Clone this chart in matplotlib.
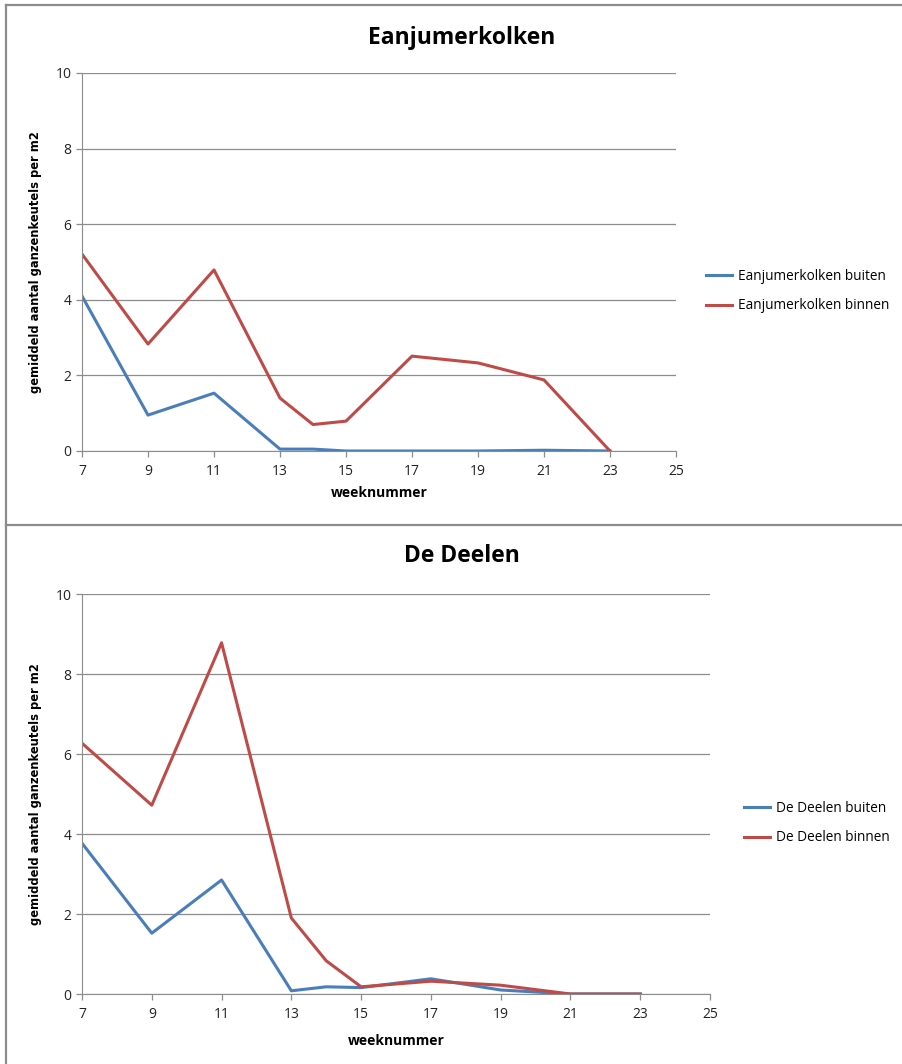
import matplotlib
matplotlib.use('Agg')
import matplotlib.pyplot as plt
from matplotlib.lines import Line2D

plt.rcParams['font.family'] = ['Open Sans', 'DejaVu Sans']

weeks = [7, 9, 11, 13, 14, 15, 17, 19, 21, 23]

# Eanjumerkolken
eanj_buiten = [4.10, 0.95, 1.53, 0.05, 0.05, 0.00, 0.00, 0.00, 0.02, 0.00]
eanj_binnen = [5.21, 2.83, 4.79, 1.40, 0.70, 0.79, 2.51, 2.33, 1.88, 0.00]

# De Deelen
deel_buiten = [3.77, 1.52, 2.85, 0.08, 0.18, 0.16, 0.38, 0.10, 0.00, 0.00]
deel_binnen = [6.27, 4.72, 8.78, 1.90, 0.83, 0.18, 0.32, 0.22, 0.00, 0.00]

xticks = [7, 9, 11, 13, 15, 17, 19, 21, 23, 25]
yticks = [0, 2, 4, 6, 8, 10]

blue = '#4a7ebb'
red = '#be4b48'
grid = '#8c8c8c'

W, H = 902, 1064
fig = plt.figure(figsize=(W / 100, H / 100), dpi=100)

# panel frames
fc = '#8c8c8c'
fig.add_artist(Line2D([6 / W, 1], [1 - 5 / H, 1 - 5 / H], color=fc, lw=1.6, transform=fig.transFigure))
fig.add_artist(Line2D([6 / W, 6 / W], [0, 1 - 5 / H], color=fc, lw=1.6, transform=fig.transFigure))
fig.add_artist(Line2D([6 / W, 1], [1 - 525 / H, 1 - 525 / H], color=fc, lw=1.6, transform=fig.transFigure))


def panel(rect, title, title_y, buiten, binnen, names, leg_x, leg_y, xlab_y, ylab_x):
    ax = fig.add_axes(rect)
    ax.plot(weeks, buiten, color=blue, lw=2.2, label=names[0])
    ax.plot(weeks, binnen, color=red, lw=2.2, label=names[1])
    ax.set_xlim(7, 25)
    ax.set_ylim(0, 10)
    ax.set_xticks(xticks)
    ax.set_yticks(yticks)
    ax.yaxis.grid(True, color=grid, lw=0.9)
    ax.set_axisbelow(True)
    for s in ['top', 'right']:
        ax.spines[s].set_visible(False)
    ax.spines['left'].set_color(grid)
    ax.spines['bottom'].set_color(grid)
    ax.tick_params(axis='both', length=4.5, width=0.9, color=grid, labelsize=10, labelcolor='#222222', pad=3)
    ax.tick_params(axis='x', pad=5)
    ax.set_xlabel('weeknummer', fontsize=10, fontweight='bold')
    ax.xaxis.set_label_coords(0.5, xlab_y)
    ax.set_ylabel('gemiddeld aantal ganzenkeutels per m2', fontsize=8.3, fontweight='bold', family='DejaVu Sans')
    ax.yaxis.set_label_coords(ylab_x, 0.5)
    fig.text(0.512, title_y, title, ha='center', va='center', fontsize=16.5, fontweight='bold')
    ax.legend(loc='center left', bbox_to_anchor=(leg_x / W, leg_y), bbox_transform=fig.transFigure,
              frameon=False, fontsize=9.8, handlelength=1.9, handletextpad=0.4, labelspacing=1.1)
    return ax


panel([82 / W, 1 - 451 / H, 594 / W, 378 / H], 'Eanjumerkolken', 1 - 38 / H,
      eanj_buiten, eanj_binnen, ['Eanjumerkolken buiten', 'Eanjumerkolken binnen'],
      694, 1 - 291 / H, -0.092, -0.068)
panel([82 / W, 1 - 994 / H, 628 / W, 400 / H], 'De Deelen', 1 - 556 / H,
      deel_buiten, deel_binnen, ['De Deelen buiten', 'De Deelen binnen'],
      732, 1 - 823 / H, -0.1, -0.064)

plt.savefig('out.png', dpi=100)
